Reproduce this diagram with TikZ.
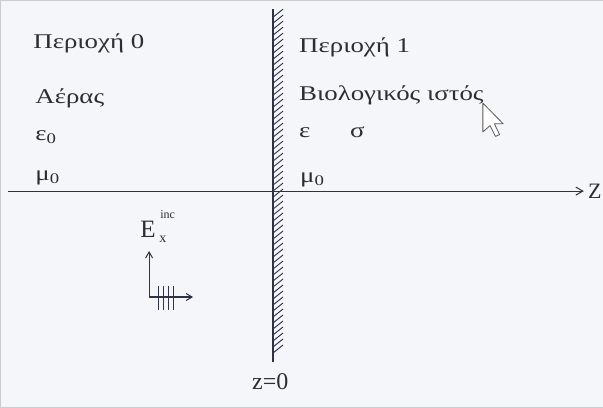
\documentclass[tikz,border=0pt]{standalone}
\usepackage{fontspec}
\setmainfont{Liberation Serif}
\newfontfamily\widefont[FakeStretch=1.28]{Liberation Serif}
\usetikzlibrary{arrows.meta}
\definecolor{bgc}{RGB}{244,246,249}
\definecolor{inkc}{RGB}{45,50,70}
\definecolor{txtc}{RGB}{45,45,50}
\tikzset{
  lbl/.style={anchor=base west, inner sep=0pt, text=txtc, font=\widefont\fontsize{21}{24}\selectfont},
  axisline/.style={draw=inkc, line width=1.1pt},
  tipz/.style={-{Straight Barb[length=7pt,width=8pt,line width=1pt]}},
  hatch/.style={draw=inkc, line width=0.9pt}
}
\begin{document}
\begin{tikzpicture}[x=1pt,y=-1pt]
\path[fill=bgc,draw=gray!40] (0,0) rectangle (603,407);
\useasboundingbox (0,0) rectangle (603,407);
% axis
\coordinate (axL) at (8,191);
\coordinate (axR) at (584,191);
\draw[axisline,tipz] (axL) -- (axR);
\node[lbl, font=\fontsize{22}{24}\selectfont] (zlab) at (588,198) {Z};
% wall
\coordinate (wT) at (273,9);
\coordinate (wB) at (273,362);
\draw[axisline, line width=1.4pt] (wT) -- (wB);
\foreach \y in {17,23,...,354}{
  \draw[hatch] (273,\y) -- (283,\y-8);
}
% left labels
\node[lbl] (p0) at (33,48) {Περιοχή 0};
\node[lbl] (air) at (35,103) {Αέρας};
\node[lbl] (e0) at (35,140) {ε\textsubscript{0}};
\node[lbl] (m0) at (35,180) {μ\textsubscript{0}};
% right labels
\node[lbl] (p1) at (299,52) {Περιοχή 1};
\node[lbl] (bio) at (299,100) {Βιολογικός ιστός};
\node[lbl] (eps) at (299,137) {ε};
\node[lbl] (sig) at (350,137) {σ};
\node[lbl] (m1) at (300,182) {μ\textsubscript{0}};
% incident field
\node[lbl, font=\fontsize{25}{28}\selectfont] (Einc) at (140,237) {E};
\node[lbl, font=\fontsize{12}{12}\selectfont] (Esup) at (160,218) {inc};
\node[lbl, font=\fontsize{14}{14}\selectfont] (Esub) at (159,242) {x};
\coordinate (o) at (149,297);
\coordinate (up) at (149,251);
\coordinate (rt) at (193,297);
\draw[axisline, line width=1.2pt, -{Straight Barb[length=6pt,width=7pt,line width=1pt]}] (o) -- (up);
\draw[axisline, line width=1.2pt, -{Straight Barb[length=6pt,width=7pt,line width=1pt]}] (o) -- (rt);
\foreach \x in {158,163,168,173}{
  \draw[inkc, line width=1.1pt] (\x,286) -- (\x,310);
}
% z=0
\node[lbl, font=\fontsize{24}{28}\selectfont] (z0) at (252,390) {z=0};
% cursor
\begin{scope}[shift={(483,103)}, scale=1.8]
\draw[fill=white, draw=gray!70!black, line width=0.8pt, line join=round]
 (0,0) -- (0,16) -- (4,12.5) -- (7,18.5) -- (9.3,17.5) -- (6.4,11.5) -- (11.3,11.5) -- cycle;
\end{scope}
\end{tikzpicture}
\end{document}
